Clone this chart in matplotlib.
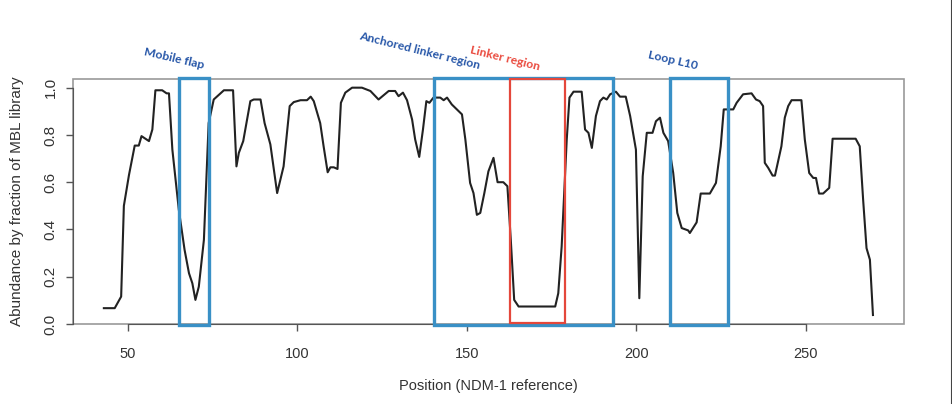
import matplotlib
matplotlib.use('Agg')
import matplotlib.pyplot as plt
from matplotlib.patches import Rectangle
from matplotlib.lines import Line2D

# position along NDM-1 reference / abundance by fraction of MBL library
pos = [43.0, 46.2, 48.1, 48.9, 50.4, 52.1, 53.3, 54.1, 56.3, 57.3, 58.2, 60.2, 61.5, 62.2,
       63.2, 65.1, 66.8, 68.1, 69.1, 70.0, 71.0, 72.5, 73.9, 75.4, 78.4, 81.1, 82.1, 82.8,
       84.1, 86.2, 87.2, 89.2, 90.4, 92.1, 94.1, 96.0, 97.8, 99.0, 101.0, 102.9, 104.0, 104.9,
       106.8, 107.8, 109.0, 109.8, 110.8, 111.9, 112.9, 114.2, 116.2, 119.1, 121.6, 124.0,
       127.0, 128.9, 129.9, 131.2, 132.4, 133.9, 134.8, 136.0, 137.1, 138.1, 139.0, 140.2,
       142.2, 143.2, 144.2, 145.6, 147.1, 148.6, 149.6, 151.0, 152.0, 153.0, 154.0, 155.2,
       156.4, 157.9, 159.1, 160.8, 162.0, 163.0, 164.0, 165.3, 176.1, 177.0, 178.0, 179.5,
       180.3, 181.5, 183.9, 184.9, 185.9, 186.9, 188.1, 189.3, 190.3, 191.3, 192.3, 194.0,
       195.2, 196.9, 198.2, 199.9, 200.9, 201.9, 203.1, 204.8, 205.8, 207.0, 208.0, 209.4,
       210.9, 212.1, 213.4, 215.3, 215.8, 217.8, 219.0, 221.7, 223.5, 224.9, 225.8, 228.6,
       229.6, 231.5, 234.0, 235.3, 236.4, 237.4, 237.9, 238.9, 240.2, 240.9, 242.8, 243.8,
       244.8, 245.8, 248.7, 249.7, 251.0, 252.2, 253.0, 253.9, 255.1, 256.9, 257.9, 264.7,
       265.9, 266.9, 267.9, 268.9, 269.8]
abund = [0.067, 0.067, 0.116, 0.50, 0.63, 0.755, 0.755, 0.795, 0.774, 0.823, 0.989, 0.989, 0.976, 0.976,
         0.738, 0.484, 0.314, 0.215, 0.172, 0.102, 0.158, 0.356, 0.85, 0.95, 0.989, 0.989, 0.667, 0.724,
         0.774, 0.943, 0.95, 0.95, 0.85, 0.76, 0.554, 0.667, 0.922, 0.939, 0.947, 0.947, 0.962, 0.943,
         0.85, 0.752, 0.642, 0.663, 0.663, 0.656, 0.936, 0.979, 1.0, 1.0, 0.986, 0.95,
         0.986, 0.986, 0.964, 0.979, 0.947, 0.865, 0.781, 0.707, 0.823, 0.943, 0.936, 0.958,
         0.958, 0.947, 0.958, 0.929, 0.908, 0.887, 0.781, 0.597, 0.554, 0.462, 0.47, 0.554,
         0.646, 0.703, 0.6, 0.6, 0.583, 0.356, 0.102, 0.074, 0.074, 0.13, 0.328, 0.781,
         0.958, 0.983, 0.983, 0.823, 0.809, 0.745, 0.88, 0.943, 0.958, 0.95, 0.972, 0.983,
         0.962, 0.962, 0.88, 0.738, 0.109, 0.625, 0.809, 0.809, 0.858, 0.873, 0.809, 0.774,
         0.639, 0.47, 0.406, 0.396, 0.385, 0.43, 0.552, 0.552, 0.597, 0.752, 0.908, 0.908,
         0.936, 0.972, 0.976, 0.95, 0.943, 0.922, 0.682, 0.661, 0.628, 0.628, 0.752, 0.873,
         0.922, 0.947, 0.947, 0.781, 0.639, 0.618, 0.618, 0.552, 0.552, 0.576, 0.784, 0.784,
         0.752, 0.526, 0.321, 0.272, 0.038]

# highlighted regions
region_names = ['Mobile flap', 'Anchored linker region', 'Linker region', 'Loop L10']
region_start = [65.3, 140.5, 162.8, 210.0]
region_end = [74.0, 193.0, 179.0, 227.1]

BLUE_BOX = '#3990c6'
RED_BOX = '#e4473b'
BLUE_TXT = '#2656a8'
RED_TXT = '#ea4a3e'

fig = plt.figure(figsize=(9.53, 4.04), dpi=100)
fig.patch.set_facecolor('white')
ax = fig.add_axes([73/953, 80/404, (904.5-73)/953, (324.7-79.3)/404])

ax.plot(pos, abund, color='#222222', lw=1.5, zorder=3)
ax.set_xlim(33.9, 279.1)
ax.set_ylim(0.0016, 1.0384)

# R-style axes: grey box plus axis lines only over the tick range
for s in ax.spines.values():
    s.set_visible(False)
ax.add_patch(Rectangle((0, 0), 1, 1, transform=ax.transAxes, fill=False,
                       edgecolor='#9a9a9a', lw=1.2, zorder=1, clip_on=False))
ax.spines['bottom'].set_visible(True)
ax.spines['left'].set_visible(True)
ax.spines['bottom'].set_bounds(50, 250)
ax.spines['left'].set_bounds(0, 1)
ax.spines['bottom'].set_color('#555555')
ax.spines['left'].set_color('#555555')

ax.set_xticks([50, 100, 150, 200, 250])
ax.set_yticks([0.0, 0.2, 0.4, 0.6, 0.8, 1.0])
ax.set_yticklabels(['0.0', '0.2', '0.4', '0.6', '0.8', '1.0'], rotation=90, va='center')
ax.tick_params(axis='both', length=5, width=1, color='#555555', labelcolor='#333333')
ax.tick_params(axis='x', labelsize=10.5, pad=11.3)
ax.tick_params(axis='y', labelsize=11, pad=6)
for lab in ax.get_xticklabels() + ax.get_yticklabels():
    lab.set_family('Liberation Sans')

ax.set_xlabel('Position (NDM-1 reference)', family='Liberation Sans', fontsize=10.5,
              color='#333333', labelpad=13)
ax.set_ylabel('Abundance by fraction of MBL library', family='Liberation Sans', fontsize=11,
              color='#333333', labelpad=14.5)

# region boxes
for name, x0, x1 in zip(region_names, region_start, region_end):
    if name == 'Linker region':
        ax.add_patch(Rectangle((x0, 0.006), x1 - x0, 1.032, fill=False, edgecolor=RED_BOX,
                               lw=1.6, zorder=5, clip_on=False))
    else:
        ax.add_patch(Rectangle((x0, -0.003), x1 - x0, 1.045, fill=False, edgecolor=BLUE_BOX,
                               lw=2.4, zorder=4, clip_on=False))

# region labels (figure pixel positions)
labels = [('Mobile flap', 174, 59, -13, BLUE_TXT),
          ('Anchored linker region', 420, 51, -14, BLUE_TXT),
          ('Linker region', 505, 58, -14, RED_TXT),
          ('Loop L10', 673, 60, -13, BLUE_TXT)]
for txt, px, py, rot, col in labels:
    fig.text(px/953, 1 - py/404, txt, ha='center', va='center', rotation=rot,
             fontsize=8.7, fontweight='bold', family='Lato', color=col)

# dark border on right edge
fig.add_artist(Line2D([0.9985, 0.9985], [0, 1], transform=fig.transFigure,
                      color='#444444', lw=1.5))

fig.savefig('out.png', dpi=100, facecolor='white')
